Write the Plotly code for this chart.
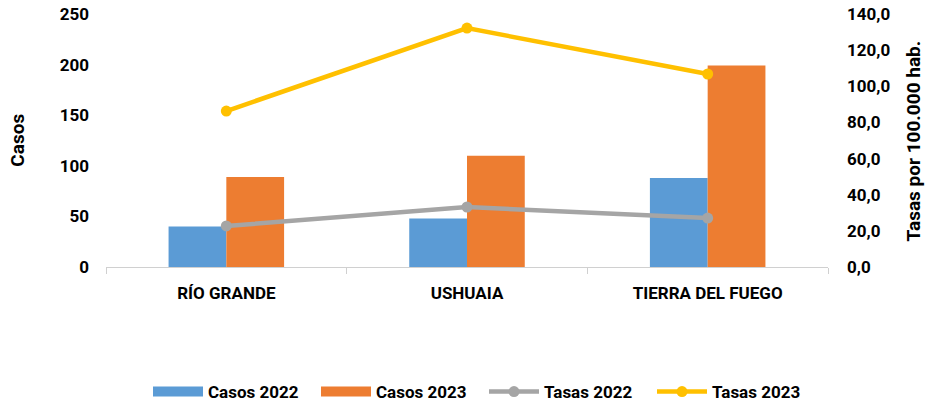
import plotly.graph_objects as go

categorias = ["RÍO GRANDE", "USHUAIA", "TIERRA DEL FUEGO"]
casos_2022 = [40, 48, 88]
casos_2023 = [89, 110, 199]
tasas_2022 = [22.7, 33.2, 27.1]
tasas_2023 = [86.3, 132.2, 106.8]

FONT = "Roboto, sans-serif"
AZUL, NARANJA, GRIS, AMARILLO = "#5B9BD5", "#ED7D31", "#A5A5A5", "#FFC000"

fig = go.Figure()
fig.add_trace(go.Bar(x=categorias, y=casos_2022, name="Casos 2022", showlegend=False,
                     marker=dict(color=AZUL, line=dict(width=0))))
fig.add_trace(go.Bar(x=categorias, y=casos_2023, name="Casos 2023", showlegend=False,
                     marker=dict(color=NARANJA, line=dict(width=0))))
# legend swatches for the bars (wide rectangles as in the original)
fig.add_trace(go.Scatter(x=[None], y=[None], mode="lines", name="Casos 2022",
                         line=dict(color=AZUL, width=10)))
fig.add_trace(go.Scatter(x=[None], y=[None], mode="lines", name="Casos 2023",
                         line=dict(color=NARANJA, width=10)))
fig.add_trace(go.Scatter(x=categorias, y=tasas_2022, name="Tasas 2022", yaxis="y2",
                         mode="lines+markers", line=dict(color=GRIS, width=4.5),
                         marker=dict(color=GRIS, size=11)))
fig.add_trace(go.Scatter(x=categorias, y=tasas_2023, name="Tasas 2023", yaxis="y2",
                         mode="lines+markers", line=dict(color=AMARILLO, width=4.5),
                         marker=dict(color=AMARILLO, size=11)))

fig.update_layout(
    width=926, height=405,
    margin=dict(l=106, r=98, t=14, b=138),
    paper_bgcolor="white", plot_bgcolor="white",
    font=dict(family=FONT, size=16, color="#000"),
    barmode="group", bargap=0.52, bargroupgap=0,
    showlegend=True,
    legend=dict(orientation="h", xref="container", yref="container",
                x=148 / 926, xanchor="left", y=13 / 405, yanchor="middle",
                font=dict(family=FONT, size=17, color="#000", weight="bold"),
                traceorder="normal", itemwidth=50,
                entrywidth=103, entrywidthmode="pixels"),
    xaxis=dict(showgrid=False, showline=True, linecolor="#D0D0D0", linewidth=1,
               ticks="outside", tickson="boundaries", ticklen=6, tickcolor="#D0D0D0",
               tickfont=dict(family=FONT, size=17, color="#000", weight="bold"),
               ticklabelstandoff=11, automargin=False),
    yaxis=dict(range=[0, 250], dtick=50, showgrid=False, zeroline=False, showline=False,
               tickfont=dict(family=FONT, size=17, color="#000", weight="bold"),
               ticklabelstandoff=16, automargin=False),
    yaxis2=dict(range=[0, 140], dtick=20, overlaying="y", side="right", showgrid=False,
                zeroline=False, showline=False, tickformat=".1f",
                tickfont=dict(family=FONT, size=17, color="#000", weight="bold"),
                ticklabelstandoff=18, automargin=False),
    separators=",.",
    annotations=[
        dict(text="<b>Casos</b>", xref="paper", yref="paper", x=-0.123, y=0.5,
             textangle=-90, showarrow=False, font=dict(family=FONT, size=19, color="#000"),
             xanchor="center", yanchor="middle"),
        dict(text="<b>Tasas por 100.000 hab.</b>", xref="paper", yref="paper", x=1.119, y=0.5,
             textangle=-90, showarrow=False, font=dict(family=FONT, size=19, color="#000"),
             xanchor="center", yanchor="middle"),
    ],
)

fig.write_html("out.html", config={"displayModeBar": False},
               post_script="document.body.style.margin='0';document.body.style.overflow='hidden';")
